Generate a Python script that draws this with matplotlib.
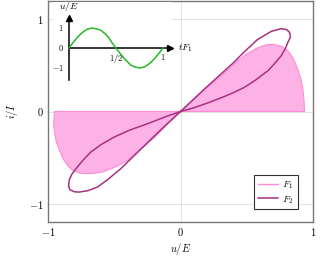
import matplotlib
matplotlib.use("Agg")
import matplotlib.pyplot as plt

plt.rcParams['mathtext.fontset'] = 'cm'
plt.rcParams['font.family'] = 'serif'
plt.rcParams['font.serif'] = ['DejaVu Serif']

# F1: filled loop (u/E, i/I)
f1_u = [0, 0.1, 0.2, 0.3, 0.4, 0.483, 0.58, 0.65, 0.70, 0.76, 0.81, 0.85, 0.885, 0.91, 0.923, 0.932, 0.936,
        -0.951, -0.958, -0.938, -0.888, -0.85, -0.813, -0.76, -0.71, -0.65, -0.586, -0.52, -0.46, -0.40,
        -0.347, -0.26, -0.18, -0.1, 0]
f1_i = [0, 0.13, 0.26, 0.38, 0.51, 0.61, 0.69, 0.725, 0.73, 0.71, 0.66, 0.58, 0.46, 0.35, 0.245, 0.12, 0,
        0, -0.15, -0.33, -0.51, -0.59, -0.64, -0.67, -0.675, -0.67, -0.655, -0.62, -0.58, -0.53,
        -0.46, -0.36, -0.26, -0.14, 0]

# F2: figure-eight loop
f2_u = [0, 0.1, 0.2, 0.3, 0.4, 0.483, 0.58, 0.685, 0.76, 0.80, 0.823, 0.83, 0.81, 0.79, 0.76, 0.71,
        0.66, 0.56, 0.483, 0.4, 0.3, 0.2, 0.1, 0,
        -0.1, -0.249, -0.38, -0.50, -0.6, -0.677, -0.73, -0.777, -0.82, -0.84, -0.845, -0.835, -0.80,
        -0.765, -0.70, -0.626, -0.55, -0.45, -0.3, -0.15, 0]
f2_i = [0, 0.135, 0.27, 0.40, 0.53, 0.65, 0.78, 0.87, 0.90, 0.89, 0.86, 0.81, 0.75, 0.68, 0.605, 0.52,
        0.443, 0.335, 0.263, 0.205, 0.145, 0.09, 0.04, 0,
        -0.05, -0.133, -0.20, -0.277, -0.36, -0.44, -0.52, -0.60, -0.68, -0.746, -0.81, -0.85, -0.872,
        -0.875, -0.86, -0.82, -0.74, -0.62, -0.41, -0.20, 0]

# inset: u/E over one period
t_vals = [0, 0.04, 0.08, 0.12, 0.16, 0.2, 0.25, 0.3, 0.34, 0.38, 0.42, 0.46, 0.5, 0.54, 0.58, 0.62,
          0.66, 0.7, 0.75, 0.8, 0.84, 0.88, 0.92, 0.96, 1.0]
u_vals = [0, 0.25, 0.48, 0.68, 0.84, 0.95, 1.0, 0.95, 0.88, 0.73, 0.54, 0.25, 0, -0.25, -0.48, -0.68,
          -0.86, -0.95, -1.0, -0.95, -0.84, -0.68, -0.48, -0.25, 0]

fill_col = '#fdb2e6'
edge_col = '#ff8ad6'
f2_col = '#a8317f'

fig = plt.figure(figsize=(3.2, 2.58), dpi=100)
ax = fig.add_axes([48 / 320, 36 / 258, 265 / 320, 221 / 258])

ax.fill(f1_u, f1_i, facecolor=fill_col, edgecolor=edge_col, lw=0.8, zorder=2)
ax.plot([], [], color=edge_col, lw=1.0, label='$F_1$')
ax.plot(f2_u, f2_i, color=f2_col, lw=1.1, label='$F_2$', zorder=3)

ax.set_xlim(-1, 1)
ax.set_ylim(-1.2, 1.2)
ax.set_xticks([-1, 0, 1])
ax.set_xticklabels(['$-1$', '$0$', '$1$'])
ax.set_yticks([-1, 0, 1])
ax.set_yticklabels(['$-1$', '$0$', '$1$'])
ax.tick_params(length=0, labelsize=7.5, pad=3)
ax.grid(True, color='#dddddd', lw=0.6, zorder=0)
ax.set_axisbelow(True)
for s in ax.spines.values():
    s.set_color('#777777')
    s.set_linewidth(1.0)
ax.set_xlabel('$u/E$', fontsize=7.5, labelpad=2)
ax.set_ylabel('$i/I$', fontsize=7.5, labelpad=7)

leg = ax.legend(loc='lower right', bbox_to_anchor=(0.96, 0.035), fontsize=7, fancybox=False,
                edgecolor='#333333', framealpha=1, handlelength=2.0, borderpad=0.4,
                labelspacing=0.3, handletextpad=0.5)
leg.get_frame().set_linewidth(0.8)

# inset
ins = fig.add_axes([53 / 320, (258 - 88) / 258, 119 / 320, 86 / 258])
ins.set_xlim(-0.17, 1.096)
ins.set_ylim(-2.0, 2.3)
ins.set_facecolor('white')
for s in ins.spines.values():
    s.set_visible(False)
ins.set_xticks([])
ins.set_yticks([])

# axes of the inset with arrow heads
ins.plot([0, 1.08], [0, 0], color='black', lw=1.1, clip_on=False, zorder=3)
ins.plot([0, 0], [-1.6, 1.5], color='black', lw=1.1, clip_on=False, zorder=3)
ins.plot([1.08], [0], marker='>', color='black', ms=4.5, clip_on=False, zorder=3)
ins.plot([0], [1.5], marker='^', color='black', ms=4.5, clip_on=False, zorder=3)
ins.plot(t_vals, u_vals, color='#22bb22', lw=1.1, zorder=4)

ins.text(0, 1.75, '$u/E$', fontsize=7, ha='center', va='bottom')
ins.text(1.16, 0, '$tF_1$', fontsize=7, ha='left', va='center', clip_on=False)
for v, lab in [(1, '$1$'), (0, '$0$'), (-1, '$-1$')]:
    ins.text(-0.055, v, lab, fontsize=6.2, ha='right', va='center')
ins.text(0.5, -0.2, '$1/2$', fontsize=6.2, ha='center', va='top')
ins.text(1.0, -0.2, '$1$', fontsize=6.2, ha='center', va='top')

fig.savefig('out.png', dpi=100)
